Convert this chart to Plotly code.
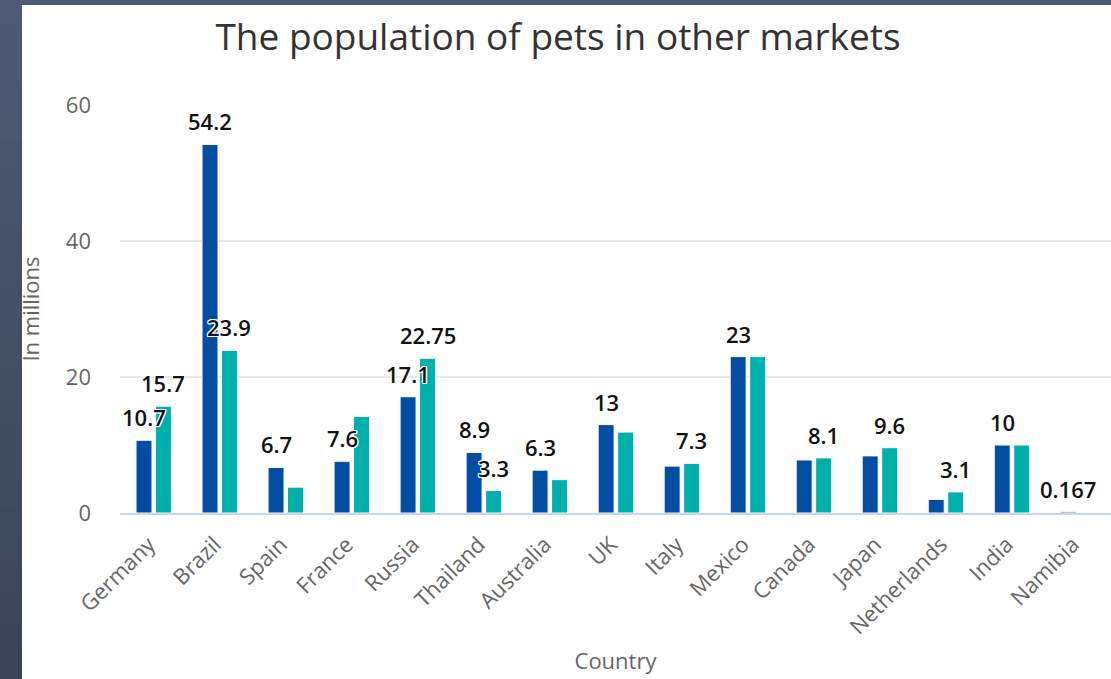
import plotly.graph_objects as go

# ---------------- data ----------------
countries = ["Germany", "Brazil", "Spain", "France", "Russia", "Thailand", "Australia",
             "UK", "Italy", "Mexico", "Canada", "Japan", "Netherlands", "India", "Namibia"]
series_a_name = "Series 1"
series_a = [10.7, 54.2, 6.7, 7.6, 17.1, 8.9, 6.3, 13, 6.9, 23, 7.8, 8.4, 2.0, 10, 0.167]
series_b_name = "Series 2"
series_b = [15.7, 23.9, 3.8, 14.2, 22.75, 3.3, 4.9, 11.9, 7.3, 23, 8.1, 9.6, 3.1, 10, None]
# which data labels are visible (overlapping ones hidden in the original)
show_a = [1, 1, 1, 1, 1, 1, 1, 1, 0, 1, 0, 0, 0, 1, 1]
show_b = [1, 1, 0, 0, 1, 1, 0, 0, 1, 0, 1, 1, 1, 0, 0]
y_ticks = [0, 20, 40, 60]

# ---------------- style ----------------
W, H = 1111, 679
ML, MR, MT, MB = 120, 0, 105, 166
FONT = "Open Sans"
BLUE = "#034ea2"
TEAL = "#00b0ad"
BARGAP = 0.41

fig = go.Figure()
fig.add_trace(go.Bar(x=countries, y=series_a, name=series_a_name,
                     marker=dict(color=BLUE, line=dict(color="#ffffff", width=1))))
fig.add_trace(go.Bar(x=countries, y=series_b, name=series_b_name,
                     marker=dict(color=TEAL, line=dict(color="#ffffff", width=1))))

outline = ("1px 1px 0 #fff, -1px -1px 0 #fff, 1px -1px 0 #fff, -1px 1px 0 #fff, "
           "0 1px 0 #fff, 0 -1px 0 #fff, 1px 0 0 #fff, -1px 0 0 #fff")
half = (1 - BARGAP) / 4
annotations = []
for i, (va, vb, sa, sb) in enumerate(zip(series_a, series_b, show_a, show_b)):
    for v, s, off in ((va, sa, -half), (vb, sb, half)):
        if s and v is not None:
            annotations.append(dict(
                x=i + off, y=v, xref="x", yref="y", text=f"{v:g}", showarrow=False,
                yanchor="bottom", xanchor="center", yshift=6,
                font=dict(family=FONT, size=22, color="#111111", weight=600, shadow=outline)))

# background frame (dark border at top and left)
def px_x(p):
    return (p - ML) / (W - ML - MR)

def px_y(p):
    return (H - MB - p) / (H - MB - MT)

shapes = []
top_col = (0x4e, 0x5a, 0x74)
bot_col = (0x3a, 0x44, 0x55)
n = 24
for k in range(n):
    t = k / (n - 1)
    c = tuple(round(a + (b - a) * t) for a, b in zip(top_col, bot_col))
    shapes.append(dict(type="rect", xref="paper", yref="paper", layer="below",
                       x0=px_x(0), x1=px_x(22), y0=px_y(H * k / n), y1=px_y(H * (k + 1) / n + 1),
                       fillcolor="rgb(%d,%d,%d)" % c, line=dict(width=0)))
shapes.append(dict(type="rect", xref="paper", yref="paper", layer="below",
                   x0=px_x(0), x1=px_x(W), y0=px_y(0), y1=px_y(5),
                   fillcolor="#4f5b76", line=dict(width=0)))

fig.update_layout(
    width=W, height=H,
    margin=dict(l=ML, r=MR, t=MT, b=MB, pad=0),
    paper_bgcolor="#ffffff", plot_bgcolor="#ffffff",
    barmode="group", bargap=BARGAP, bargroupgap=0.18,
    showlegend=False,
    font=dict(family=FONT, color="#666666"),
    title=dict(text="The population of pets in other markets",
               x=558 / W, xref="container", xanchor="center",
               y=1 - 37 / H, yref="container", yanchor="middle",
               font=dict(family=FONT, size=37, color="#333333")),
    xaxis=dict(
        title=dict(text="Country", font=dict(family=FONT, size=22, color="#666666"), standoff=15),
        tickangle=-45, tickfont=dict(family=FONT, size=22, color="#666666"),
        showline=True, linecolor="#ccd6eb", linewidth=2, ticks="",
        showgrid=False, ticklabelstandoff=8, ticklabelshift=-5,
    ),
    yaxis=dict(
        title=dict(text="In millions", font=dict(family=FONT, size=22, color="#666666"), standoff=20),
        range=[0, 60], tickvals=y_ticks, tickfont=dict(family=FONT, size=22, color="#666666"),
        showgrid=True, gridcolor="#e8e8e8", gridwidth=2, zeroline=False, ticks="",
        ticklabelstandoff=28,
    ),
    annotations=annotations,
    shapes=shapes,
)

fig.write_html("out.html", config={"displayModeBar": False},
               post_script="document.body.style.margin='0px';")
